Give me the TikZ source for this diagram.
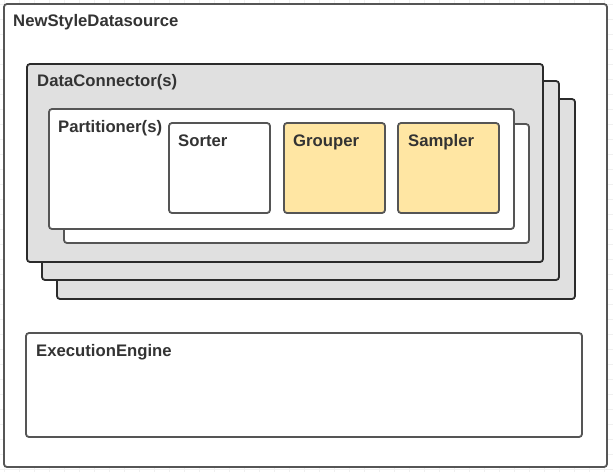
\documentclass[tikz,border=0pt]{standalone}
\usepackage{fontspec}
\setmainfont{Liberation Sans}
\usetikzlibrary{backgrounds}

\definecolor{edge}{HTML}{555555}
\definecolor{darkedge}{HTML}{2B2B2B}
\definecolor{stackfill}{HTML}{E0E0E0}
\definecolor{yellowfill}{HTML}{FFE6A3}
\definecolor{textcol}{HTML}{333333}

\tikzset{
	box/.style={draw=edge, line width=1.8pt, rounded corners=3pt, fill=white},
	stackbox/.style={draw=darkedge, line width=1.8pt, rounded corners=3pt, fill=stackfill},
	ybox/.style={box, fill=yellowfill},
	title/.style={anchor=base west, inner sep=0pt, text=textcol, font=\fontsize{16.7}{19}\selectfont\bfseries},
}

\begin{document}
\begin{tikzpicture}[x=1pt, y=-1pt]
		\useasboundingbox (0,0) rectangle (613,472);
		% faint page grid
		\foreach \g in {4,19,...,613} {
			\draw[gray!12, line width=0.5pt] (\g,0) -- (\g,472);
		}
		\foreach \g in {4,19,...,472} {
			\draw[gray!12, line width=0.5pt] (0,\g) -- (613,\g);
		}
		
		% outer datasource
		\draw[box] (4,4) rectangle (607,467);
		\node[title] (nsd) at (13,26) {NewStyleDatasource};
		
		% stacked data connectors
		\draw[stackbox] (57,99) rectangle (575,299);
		\draw[stackbox] (42,81) rectangle (559,280);
		\draw[stackbox] (27,64) rectangle (543,262);
		\node[title] (dc) at (37,86) {DataConnector(s)};
		
		% stacked partitioners
		\draw[box] (64,124) rectangle (529,243);
		\draw[box] (49,109) rectangle (514,229);
		\node[title] (part) at (58,132) {Partitioner(s)};
		
		\draw[box] (169,123) rectangle (270,213);
		\node[title] (sorter) at (178,146) {Sorter};
		\draw[ybox] (284,123) rectangle (385,213);
		\node[title] (grouper) at (293,146) {Grouper};
		\draw[ybox] (398,123) rectangle (499,213);
		\node[title] (sampler) at (408,146) {Sampler};
		
		% execution engine
		\draw[box] (26,333) rectangle (582,437);
		\node[title] (ee) at (36,356) {ExecutionEngine};
		
	\end{tikzpicture}
\end{document}
